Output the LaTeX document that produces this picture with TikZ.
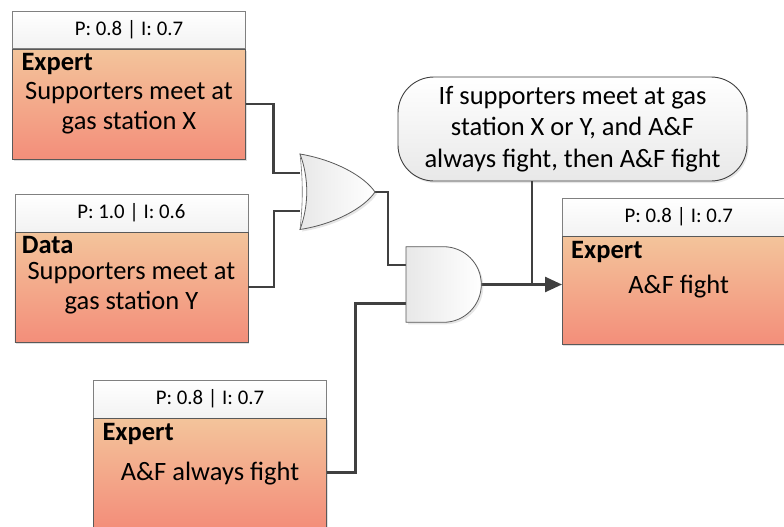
\documentclass[tikz,border=0pt]{standalone}
\usepackage{fontspec}
\setmainfont{Carlito}
\usetikzlibrary{positioning,arrows.meta,shadows}

\definecolor{peachtop}{RGB}{243,196,155}
\definecolor{peachbot}{RGB}{243,142,122}
\definecolor{wiregray}{RGB}{64,64,64}

\tikzset{
  head/.style={draw=black!50, top color=white, bottom color=black!5,
    minimum width=233pt, minimum height=37.5pt, inner sep=0pt,
    font=\fontsize{20.8}{24}\selectfont},
  body/.style={draw=black!65, top color=peachtop, bottom color=peachbot,
    minimum width=233pt, inner sep=0pt,
    drop shadow={shadow xshift=1pt, shadow yshift=-1.5pt, opacity=0.25}},
  kind/.style={font=\fontsize{26.5}{30}\selectfont\bfseries, inner sep=0pt},
  desc/.style={font=\fontsize{26.5}{30.5}\selectfont, align=center, inner sep=0pt},
  gate/.style={draw=black!65, line width=0.8pt, left color=black!9, right color=white,
    drop shadow={shadow xshift=2pt, shadow yshift=-2pt, opacity=0.2}},
  wire/.style={draw=wiregray, line width=2.5pt},
  note/.style={draw=wiregray, line width=0.9pt, rounded corners=36pt,
    top color=white, bottom color=black!9, minimum width=349pt, minimum height=104pt,
    font=\fontsize{26.5}{31.5}\selectfont, align=center, inner sep=0pt,
    drop shadow={shadow xshift=1.5pt, shadow yshift=-2pt, opacity=0.2}}
}

\begin{document}
\begin{tikzpicture}[x=1pt,y=-1pt]
\useasboundingbox (0,0) rectangle (784,527);

% evidence boxes
\node[head, anchor=north west] (h1) at (12.3,11) {P: 0.8 | I: 0.7};
\node[body, minimum height=110pt, below=0pt of h1] (b1) {};
\node[kind, anchor=base west] (k1) at ([shift={(9,22)}]b1.north west) {Expert};
\node[desc] (d1) at ([yshift=-4pt]b1.center) {Supporters meet at\\gas station X};

\node[head, anchor=north west] (h2) at (14.7,194) {P: 1.0 | I: 0.6};
\node[body, minimum height=110pt, below=0pt of h2] (b2) {};
\node[kind, anchor=base west] (k2) at ([shift={(7,22)}]b2.north west) {Data};
\node[desc] (d2) at ([yshift=-1pt]b2.center) {Supporters meet at\\gas station Y};

\node[head, anchor=north west] (h3) at (93.3,380) {P: 0.8 | I: 0.7};
\node[body, minimum height=109pt, below=0pt of h3] (b3) {};
\node[kind, anchor=base west] (k3) at ([shift={(9,23)}]b3.north west) {Expert};
\node[desc] (d3) at ([yshift=-1pt]b3.center) {A\&F always fight};

% conclusion
\node[head, anchor=north west] (h4) at (562,198) {P: 0.8 | I: 0.7};
\node[body, minimum height=108pt, below=0pt of h4] (b4) {};
\node[kind, anchor=base west] (k4) at ([shift={(9,23)}]b4.north west) {Expert};
\node[desc] (d4) at ([yshift=3.5pt]b4.center) {A\&F fight};

% rule
\node[note] (rule) at (572.5,129) {If supporters meet at gas\\station X or Y, and A\&F\\always fight, then A\&F fight};

% gate pins
\coordinate (or-in1) at (300,173);
\coordinate (or-in2) at (300,211);
\coordinate (or-out) at (375,192);
\coordinate (and-in1) at (406,265);
\coordinate (and-in2) at (406,303.5);
\coordinate (and-out) at (481,284.5);
\coordinate (tap) at (532,284.5);

% wires
\draw[wire] (b1.east) -- ++(28,0) |- (or-in1);
\draw[wire] (b2.east) -- ++(26,0) |- (or-in2);
\draw[wire] (or-out) -- ++(13,0) |- (and-in1);
\draw[wire] (b3.east) -- ++(29,0) |- (and-in2);
\draw[wire, -{Triangle[length=17pt,width=15pt]}] (and-out) -- (b4.west |- and-out);
\draw[wire] (tap |- rule.south) -- (tap);

% OR gate
\draw[gate] (300,154) .. controls (335,160) and (364,176) .. (or-out)
  .. controls (364,208) and (335,224) .. (300,229.5)
  .. controls (309,205) and (309,178) .. (300,154) -- cycle;
\draw[black!55, line width=0.6pt] (300,154) .. controls (303,180) and (303,204) .. (300,229.5);

% AND gate
\draw[gate] (406,246.7) -- (443.5,246.7) arc[start angle=90, end angle=-90, radius=37.8pt]
  -- (406,322.3) -- cycle;
\end{tikzpicture}
\end{document}
